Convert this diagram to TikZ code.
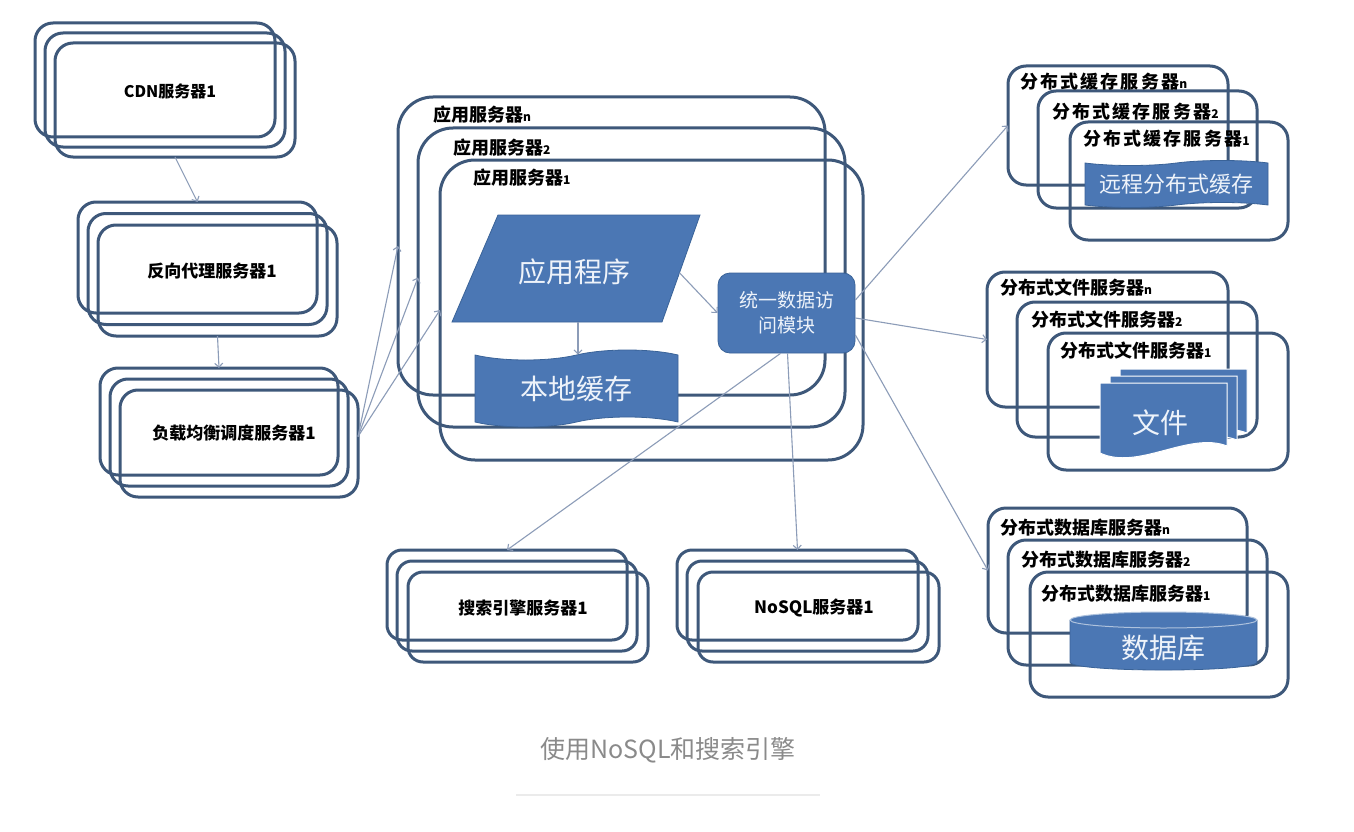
\documentclass[tikz,border=0pt]{standalone}
\usepackage{fontspec}
\newfontfamily\cjk{Noto Sans CJK SC}
\newfontfamily\cjkwide[LetterSpace=12]{Noto Sans CJK SC}
\usetikzlibrary{arrows.meta,shapes.symbols,calc}
\definecolor{boxc}{HTML}{3E587A}
\definecolor{fillc}{HTML}{4B77B4}
\definecolor{edgec}{HTML}{3A6398}
\definecolor{arrc}{HTML}{8C9CB8}
\definecolor{shtext}{HTML}{EEF3FA}
\definecolor{capc}{HTML}{8A8A8A}
\definecolor{sepc}{HTML}{EBEBEB}
\newcommand\mysuffix[1]{{\fontsize{12pt}{12pt}\selectfont #1}}
\newcommand\docshape[4]{\filldraw[docst] (#1,#2) -- (#3,#2) -- (#3,{#4-12}) .. controls ({#3-0.3*(#3-#1)},{#4-27}) and ({#1+0.3*(#3-#1)},{#4+13}) .. (#1,{#4-5}) -- cycle;}
\begin{document}
\begin{tikzpicture}[x=1pt,y=-1pt,
  sbox/.style={rectangle,draw=boxc,line width=3pt,rounded corners=#1,inner sep=0pt,outer sep=0pt},
  sbox/.default=18pt,
  lbl/.style={font=\cjk\bfseries\fontsize{17pt}{19pt}\selectfont,text=black,inner sep=0pt},
  rlbl/.style={font=\cjk\bfseries\fontsize{18pt}{20pt}\selectfont,text=black,anchor=west,inner sep=0pt},
  wlbl/.style={font=\cjkwide\bfseries\fontsize{18pt}{20pt}\selectfont,text=black,anchor=west,inner sep=0pt},
  conn/.style={draw=arrc,line width=1.1pt,-{Straight Barb[length=4pt,width=8pt]}},
  shp/.style={fill=fillc,draw=edgec,line width=0.8pt},
  docst/.style={fill=fillc,draw=white,line width=1pt},
  shtxt/.style={text=shtext,inner sep=0pt}
]
\useasboundingbox (0,0) rectangle (1354,832);
\fill[white] (0,0) rectangle (1354,832);

% ---------- left column ----------
\node[sbox,minimum width=240pt,minimum height=114pt] (cdnA) at (155,80) {};
\node[sbox,minimum width=240pt,minimum height=114pt] (cdnB) at (165,90) {};
\node[sbox,minimum width=240pt,minimum height=114pt] (cdnC) at (175,100) {};
\node[lbl,font=\cjk\bfseries\fontsize{16pt}{18pt}\selectfont] (cdnL) at (170,91) {CDN服务器1};

\node[sbox,minimum width=239pt,minimum height=111pt] (rpA) at (197.5,257.5) {};
\node[sbox,minimum width=239pt,minimum height=111pt] (rpB) at (207.5,269) {};
\node[sbox,minimum width=239pt,minimum height=111pt] (rpC) at (217.5,280.5) {};
\node[lbl] (rpL) at (212,271) {反向代理服务器1};

\node[sbox,minimum width=238pt,minimum height=107pt] (lbA) at (219,421.5) {};
\node[sbox,minimum width=238pt,minimum height=107pt] (lbB) at (229,432.5) {};
\node[sbox,minimum width=238pt,minimum height=107pt] (lbC) at (239,443.5) {};
\node[lbl] (lbL) at (234,433) {负载均衡调度服务器1};

% ---------- bottom ----------
\node[sbox=15pt,minimum width=240pt,minimum height=90pt] (seA) at (507,595) {};
\node[sbox=15pt,minimum width=240pt,minimum height=90pt] (seB) at (517,606) {};
\node[sbox=15pt,minimum width=240pt,minimum height=90pt] (seC) at (528,617) {};
\node[lbl] (seL) at (523,608) {搜索引擎服务器1};

\node[sbox=15pt,minimum width=241pt,minimum height=90pt] (nsA) at (797.5,595) {};
\node[sbox=15pt,minimum width=241pt,minimum height=90pt] (nsB) at (807.5,606) {};
\node[sbox=15pt,minimum width=241pt,minimum height=90pt] (nsC) at (818.5,617) {};
\node[lbl] (nsL) at (814,608) {NoSQL服务器1};

% ---------- application servers ----------
\node[sbox=35pt,minimum width=427pt,minimum height=298pt] (appN) at (611.5,246) {};
\node[sbox=35pt,minimum width=427pt,minimum height=299pt] (app2) at (631.5,277.5) {};
\node[sbox=35pt,minimum width=423pt,minimum height=300pt] (app1) at (651.5,310) {};

% ---------- right column ----------
\node[sbox,minimum width=220pt,minimum height=119pt] (caN) at (1118,125.5) {};
\node[sbox,minimum width=219pt,minimum height=117pt] (ca2) at (1147.5,149.5) {};
\node[sbox,minimum width=218pt,minimum height=118pt] (ca1) at (1179,181) {};

\node[sbox,minimum width=241pt,minimum height=135pt] (fiN) at (1107.5,339.5) {};
\node[sbox,minimum width=240pt,minimum height=135pt] (fi2) at (1137,369.5) {};
\node[sbox,minimum width=240pt,minimum height=137pt] (fi1) at (1168,401.5) {};

\node[sbox,minimum width=259pt,minimum height=125pt] (dbN) at (1117.5,570.5) {};
\node[sbox,minimum width=259pt,minimum height=125pt] (db2) at (1137.5,602.5) {};
\node[sbox,minimum width=258pt,minimum height=125pt] (db1) at (1159,634.5) {};

% ---------- unified data access module ----------
\node[rectangle,rounded corners=12pt,shp,minimum width=137pt,minimum height=80pt,align=center,text=shtext,font=\cjk\fontsize{19pt}{25pt}\selectfont] (uni) at (786.5,313) {统一数据访\\问模块};

% ---------- connectors ----------
\draw[conn] (cdnC.south) -- (rpA.north);
\draw[conn] (rpC.south) -- (lbA.north);
\coordinate (lbout) at ([yshift=7pt]lbC.east);
\draw[conn] (lbout) -- (appN.west);
\draw[conn] (lbout) -- (app2.west);
\draw[conn] (lbout) -- (app1.west);
\draw[conn] ([yshift=13pt]uni.east) -- (caN.west);
\draw[conn] ([yshift=-5pt]uni.east) -- (fiN.west);
\draw[conn] ([yshift=-22pt]uni.east) -- (dbN.west);
\draw[conn] ([xshift=-6pt]uni.south) -- (seA.north);
\draw[conn] ([xshift=1pt]uni.south) -- (nsA.north);

% ---------- application program ----------
\coordinate (pTL) at (498,215);
\coordinate (pTR) at (700,215);
\coordinate (pBR) at (662,322);
\coordinate (pBL) at (452,322);
\filldraw[shp] (pTL) -- (pTR) -- (pBR) -- (pBL) -- cycle;
\node[shtxt,font=\cjk\fontsize{28pt}{30pt}\selectfont] (prog) at (574,272) {应用程序};
\coordinate (pR) at ($(pTR)!0.54!(pBR)$);
\coordinate (pB) at ($(pBL)!0.6!(pBR)$);

% local cache
\node[tape,shp,tape bend top=in and out,tape bend bottom=in and out,tape bend height=10pt,minimum width=203pt,minimum height=77pt,inner sep=0pt,text=shtext,font=\cjk\fontsize{28pt}{30pt}\selectfont] (lc) at (576.5,388.5) {本地缓存};
\draw[conn] (pR) -- (uni.west);
\draw[conn] (pB) -- (pB |- lc.north);

% remote cache
\node[tape,shp,tape bend height=5pt,minimum width=183pt,minimum height=47pt,inner sep=0pt,text=shtext,font=\cjk\fontsize{22pt}{24pt}\selectfont] (rc) at (1176.5,184) {远程分布式缓存};

% files
\docshape{1120}{369}{1247}{445}
\docshape{1110}{376}{1237}{452}
\docshape{1100}{383}{1227}{458}
\node[shtxt,font=\cjk\fontsize{28pt}{30pt}\selectfont] (files) at (1160,423) {文件};

% database cylinder
\fill[fillc] (1070,620) -- (1070,662) .. controls (1070,672.7) and (1257,672.7) .. (1257,662) -- (1257,620) -- cycle;
\draw[edgec,line width=0.8pt] (1070,620) -- (1070,662) .. controls (1070,672.7) and (1257,672.7) .. (1257,662) -- (1257,620);
\filldraw[fill=fillc,draw=white!55!fillc,line width=1pt] (1163.5,620) ellipse [x radius=93.5pt, y radius=8pt];
\node[shtxt,font=\cjk\fontsize{28pt}{30pt}\selectfont] (dbtxt) at (1163,648) {数据库};

% ---------- labels ----------
\node[rlbl] (appNL) at (433,115) {应用服务器\mysuffix{n}};
\node[rlbl] (app2L) at (453,148) {应用服务器\mysuffix{2}};
\node[rlbl] (app1L) at (473,178) {应用服务器\mysuffix{1}};

\node[wlbl] (caNL) at (1020,82) {分布式缓存服务器\mysuffix{n}};
\node[wlbl] (ca2L) at (1052,112) {分布式缓存服务器\mysuffix{2}};
\node[wlbl] (ca1L) at (1083,139) {分布式缓存服务器\mysuffix{1}};

\node[rlbl] (fiNL) at (1000,288) {分布式文件服务器\mysuffix{n}};
\node[rlbl] (fi2L) at (1031,320) {分布式文件服务器\mysuffix{2}};
\node[rlbl] (fi1L) at (1060,351) {分布式文件服务器\mysuffix{1}};

\node[rlbl] (dbNL) at (1000,528) {分布式数据库服务器\mysuffix{n}};
\node[rlbl] (db2L) at (1021,560) {分布式数据库服务器\mysuffix{2}};
\node[rlbl] (db1L) at (1041,594) {分布式数据库服务器\mysuffix{1}};

% ---------- caption ----------
\node[font=\cjk\fontsize{25pt}{27pt}\selectfont,text=capc,inner sep=0pt] (cap) at (668,750) {使用NoSQL和搜索引擎};
\coordinate (sepL) at (516,795);
\coordinate (sepR) at (820,795);
\draw[sepc,line width=1.5pt] (sepL) -- (sepR);
\end{tikzpicture}
\end{document}
